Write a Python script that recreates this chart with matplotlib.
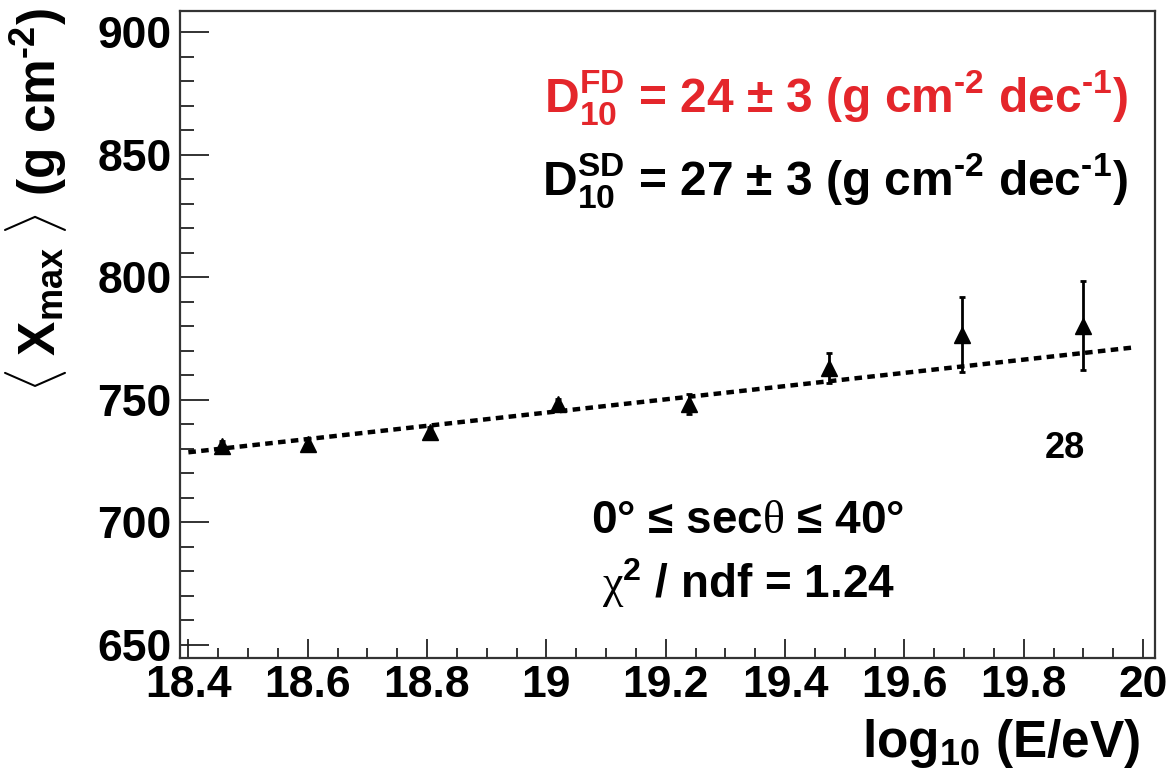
import matplotlib
matplotlib.use('Agg')
import matplotlib.pyplot as plt
import numpy as np

# data
log_e = [18.456, 18.600, 18.805, 19.019, 19.239, 19.473, 19.697, 19.899]
xmax_mean = [731.2, 732.0, 736.9, 748.3, 748.3, 763.0, 776.6, 780.3]
xmax_err = [2.0, 2.5, 2.0, 2.0, 4.0, 6.0, 15.3, 18.0]
n_last = '28'

# linear fit, elongation rate D10 = 27 g/cm2/dec
fit_x = [18.40, 19.983]
fit_a = 728.6
fit_slope = 27.0

red = '#e4262b'

plt.rcParams['font.family'] = ['Liberation Sans', 'DejaVu Sans']
plt.rcParams['font.weight'] = 'bold'
plt.rcParams['mathtext.fontset'] = 'custom'
plt.rcParams['mathtext.rm'] = 'Liberation Sans:bold'
plt.rcParams['mathtext.it'] = 'Liberation Sans:bold'
plt.rcParams['mathtext.bf'] = 'Liberation Sans:bold'
plt.rcParams['mathtext.sf'] = 'Liberation Serif:normal'

fig = plt.figure(figsize=(11.71, 7.81), dpi=100)
ax = fig.add_axes([180/1171, 123/781, 975/1171, 647/781])

fx = np.array(fit_x)
ax.plot(fx, fit_a + fit_slope*(fx - 18.4), color='black', lw=3.2,
        linestyle=(0, (1.7, 1.2)), dash_capstyle='butt', zorder=2)
ax.errorbar(log_e, xmax_mean, yerr=xmax_err, fmt='^', color='black', ms=11,
            elinewidth=2, capsize=2.5, capthick=2, zorder=3)

ax.set_xlim(18.386, 20.020)
ax.set_ylim(644.7, 908.6)
ax.set_xticks([18.4, 18.6, 18.8, 19.0, 19.2, 19.4, 19.6, 19.8, 20.0])
ax.set_xticklabels(['18.4', '18.6', '18.8', '19', '19.2', '19.4', '19.6', '19.8', '20'])
ax.set_xticks(np.arange(18.45, 20.0, 0.05), minor=True)
ax.set_yticks([650, 700, 750, 800, 850, 900])
ax.set_yticks(np.arange(660, 901, 10), minor=True)

ax.tick_params(axis='both', which='both', direction='in', colors='#222222',
               labelcolor='black', labelsize=32)
ax.tick_params(axis='x', which='major', length=13.7, width=1.3, pad=5)
ax.tick_params(axis='x', which='minor', length=7, width=1.3)
ax.tick_params(axis='y', which='major', length=21, width=1.3, pad=6)
ax.tick_params(axis='y', which='minor', length=10, width=1.3)
for s in ax.spines.values():
    s.set_linewidth(1.6)
    s.set_color('#333333')

fig.text(1140/1171, (781-757)/781, r'log$_{\text{10}}$ (E/eV)', fontsize=37,
         ha='right', va='baseline')
fig.text(55/1171, 773/781, r'$\langle\;$X$_{max}\;\rangle$ (g cm$^{\text{-2}}$)',
         fontsize=37, rotation=90, rotation_mode='anchor', ha='right', va='baseline')

fig.text(1128/1171, (781-112)/781,
         r'D$_{10}^{FD}$ = 24 ± 3 (g cm$^{\text{-2}}$ dec$^{\text{-1}}$)',
         fontsize=34.5, color=red, ha='right', va='baseline')
fig.text(1128/1171, (781-195)/781,
         r'D$_{10}^{SD}$ = 27 ± 3 (g cm$^{\text{-2}}$ dec$^{\text{-1}}$)',
         fontsize=34.5, color='black', ha='right', va='baseline')
fig.text(1065/1171, (781-458)/781, n_last, fontsize=26, ha='center', va='baseline')
fig.text(748/1171, (781-533)/781, r'0° ≤ sec$\mathsf{\theta}$ ≤ 40°',
         fontsize=33, ha='center', va='baseline')
fig.text(748/1171, (781-598)/781, r'$\mathsf{\chi}^{2}$ / ndf = 1.24',
         fontsize=33, ha='center', va='baseline')

fig.savefig('out.png', dpi=100)
